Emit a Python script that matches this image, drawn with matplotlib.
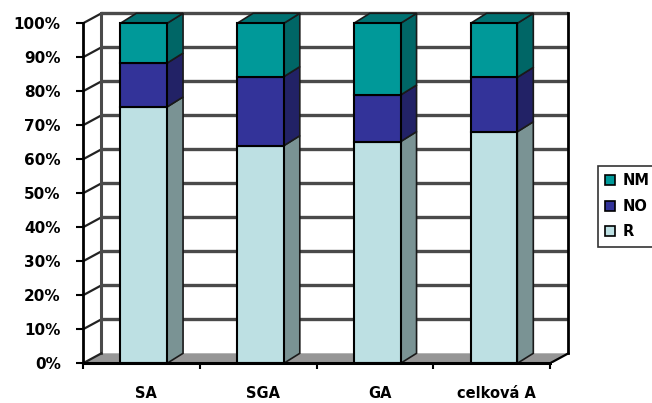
import numpy as np
import matplotlib.pyplot as plt
from matplotlib.patches import Polygon, Patch

plt.rcParams['font.family'] = ['DejaVu Sans']
plt.rcParams['font.weight'] = 'bold'

# shares per group (%), stacked bottom to top: R, NO, NM
categories = ['SA', 'SGA', 'GA', 'celková A']
r_vals = [75.4, 64.0, 65.2, 68.1]
no_vals = [12.9, 20.3, 13.7, 16.0]
nm_vals = [11.7, 15.7, 21.1, 15.9]
series_names = ['R', 'NO', 'NM']
yticks = list(range(0, 101, 10))
yticklabels = [f'{v}%' for v in yticks]

front_cols = ['#bde0e3', '#333399', '#009999']
side_cols = ['#7a9394', '#222266', '#006666']
top_col = '#007272'

# fake 3d depth (axis units)
wdx, wdy = 0.158, 2.94   # walls / floor
bdx, bdy = 0.137, 2.94   # bars
bw = 0.40
shift = 0.02

fig = plt.figure(figsize=(6.52, 4.03), dpi=100)
ax = fig.add_axes([83/652, 39.7/403, 487/652, 353.3/403])
ax.set_xlim(-0.5, -0.5 + 487/116.75)
ax.set_ylim(0, 353.3/3.4)
for s in ax.spines.values():
    s.set_visible(False)

x0, x1 = -0.5, 3.5
grid_c = '#4a4a4a'

# walls and floor
ax.add_patch(Polygon([(x0+wdx, wdy), (x1+wdx, wdy), (x1+wdx, 100+wdy), (x0+wdx, 100+wdy)],
                     closed=True, fc='white', ec='none', zorder=1))
ax.add_patch(Polygon([(x0, 0), (x0+wdx, wdy), (x0+wdx, 100+wdy), (x0, 100)],
                     closed=True, fc='white', ec='none', zorder=1))
ax.add_patch(Polygon([(x0, 0), (x1, 0), (x1+wdx, wdy), (x0+wdx, wdy)],
                     closed=True, fc='#969696', ec='none', zorder=2))

for v in yticks[1:]:
    ax.plot([x0+wdx, x1+wdx], [v+wdy, v+wdy], color=grid_c, lw=2.4, zorder=2,
            solid_capstyle='butt')
    ax.plot([x0, x0+wdx], [v, v+wdy], color='#222222', lw=1.6, zorder=2)
ax.plot([x0+wdx, x0+wdx], [wdy, 100+wdy], color=grid_c, lw=2.2, zorder=2)
ax.plot([x1+wdx, x1+wdx], [wdy, 100+wdy], color='black', lw=2.0, zorder=2)
ax.plot([x0, x0+wdx], [0, wdy], color='#222222', lw=1.6, zorder=2)

# bars
for i in range(len(categories)):
    c = i + shift
    left, right = c - bw/2, c + bw/2
    base = 0
    for k, vals in enumerate([r_vals, no_vals, nm_vals]):
        top = base + vals[i]
        ax.add_patch(Polygon([(right, base), (right+bdx, base+bdy), (right+bdx, top+bdy), (right, top)],
                             closed=True, fc=side_cols[k], ec='#1a1a1a', lw=1.2, zorder=3))
        ax.bar(c, vals[i], bw, bottom=base, color=front_cols[k], edgecolor='black',
               linewidth=1.5, zorder=4)
        base = top
    ax.add_patch(Polygon([(left, base), (right, base), (right+bdx, base+bdy), (left+bdx, base+bdy)],
                         closed=True, fc=top_col, ec='#1a1a1a', lw=1.2, zorder=3))

# front axis lines
ax.plot([x0, x0], [0, 100], color='black', lw=2.0, zorder=5, clip_on=False)
ax.plot([x0, x1], [0, 0], color='black', lw=2.2, zorder=5, clip_on=False)
ax.plot([x1, x1+wdx], [0, wdy], color='black', lw=1.6, zorder=5)

ax.set_yticks(yticks)
ax.set_yticklabels(yticklabels)
ax.tick_params(axis='y', length=5, width=1.5, pad=11, labelsize=11, colors='black')

ax.set_xticks(np.arange(x0, x1 + 0.01, 1.0))
ax.set_xticklabels([])
ax.tick_params(axis='x', which='major', length=4, width=1.5, direction='out')
ax.set_xticks(np.arange(len(categories)) + 0.04, minor=True)
ax.set_xticklabels(categories, minor=True)
ax.tick_params(axis='x', which='minor', length=0, pad=16, labelsize=10.5)

handles = [Patch(facecolor=front_cols[k], edgecolor='black', lw=1.2) for k in (2, 1, 0)]
leg = ax.legend(handles, ['NM', 'NO', 'R'], loc='upper left',
                bbox_to_anchor=(598/652, 1 - 166/403), bbox_transform=fig.transFigure,
                borderaxespad=0, frameon=True, fancybox=False, edgecolor='black',
                handlelength=0.65, handleheight=0.65, handletextpad=0.55,
                labelspacing=0.72, borderpad=0.5, prop={'size': 10.5, 'weight': 'bold'})
leg.get_frame().set_linewidth(1.2)

fig.savefig('out.png', dpi=100)
